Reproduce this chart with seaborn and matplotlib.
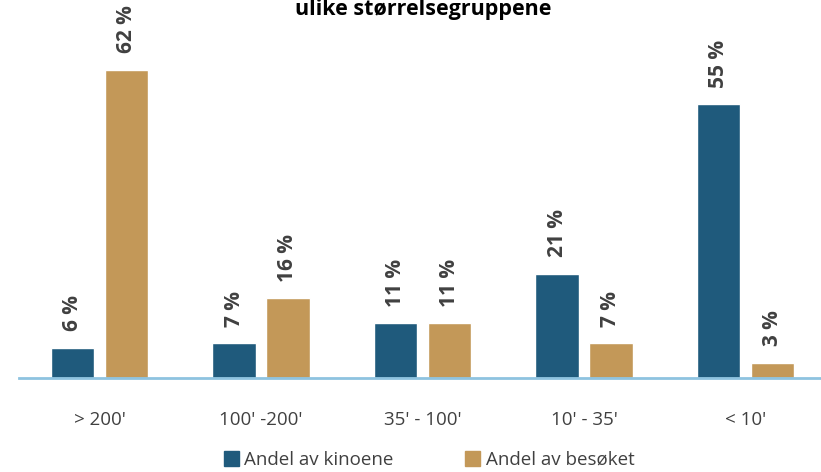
import matplotlib
matplotlib.use("Agg")
import matplotlib.pyplot as plt
import seaborn as sns
import pandas as pd

groups = ["> 200'", "100' -200'", "35' - 100'", "10' - 35'", "< 10'"]
kinoene = [6, 7, 11, 21, 55]
besoket = [62, 16, 11, 7, 3]
series = ["Andel av kinoene", "Andel av besøket"]
colors = ["#1F5A7C", "#C39858"]

df = pd.DataFrame({
    "gruppe": groups * 2,
    "andel": kinoene + besoket,
    "serie": [series[0]] * 5 + [series[1]] * 5,
})

sns.set_style("white")
plt.rcParams['font.family'] = ['Open Sans', 'DejaVu Sans']

fig = plt.figure(figsize=(8.21, 4.72), dpi=100)
ax = fig.add_axes([18.75 / 821, 94 / 472, 807.5 / 821, 378 / 472])
sns.barplot(data=df, x="gruppe", y="andel", hue="serie", palette=colors,
            width=0.667, gap=0.19, ax=ax, legend=False, saturation=1)

ax.set_xlim(-0.5, 4.5)
ax.set_ylim(0, 76)
ax.set_xlabel("")
ax.set_ylabel("")
ax.set_yticks([])
for s in ["top", "right", "left"]:
    ax.spines[s].set_visible(False)
ax.spines["bottom"].set_color("#8EC3E0")
ax.spines["bottom"].set_linewidth(2)
ax.tick_params(axis="x", length=0, pad=24, labelsize=13.5, labelcolor="#404040")

for cont in ax.containers:
    for bar in cont:
        h = bar.get_height()
        ax.annotate(f"{h:.0f} %", (bar.get_x() + bar.get_width() / 2, h),
                    xytext=(0, 12), textcoords="offset points",
                    rotation=90, ha="center", va="bottom",
                    fontsize=15, fontweight="bold", color="#404040")

fig.text(423 / 821, 1 - 9 / 472, "ulike størrelsegruppene", ha="center", va="center",
         fontsize=15.5, fontweight="bold", color="black")

handles = [plt.Rectangle((0, 0), 1, 1, color=c) for c in colors]
fig.legend(handles, series, loc="center", bbox_to_anchor=(429 / 821, 1 - 460 / 472),
           ncol=2, frameon=False, fontsize=13.5, handlelength=0.8, handleheight=0.8,
           handletextpad=0.3, columnspacing=3.8, labelcolor="#404040")

fig.savefig("out.png", dpi=100)
